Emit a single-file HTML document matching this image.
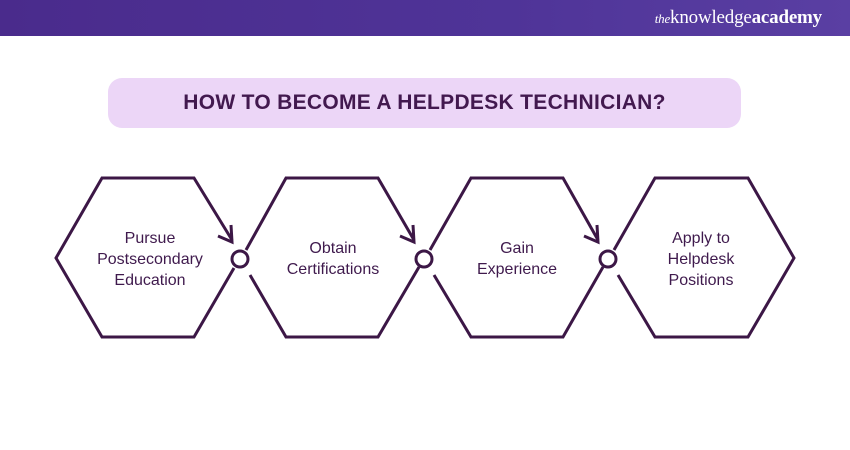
<!DOCTYPE html>
<html><head><style>
body{margin:0;width:850px;height:450px;background:#fff;overflow:hidden;font-family:"Liberation Sans",sans-serif;position:relative}
.hdr{position:absolute;left:0;top:0;width:850px;height:36px;background:linear-gradient(90deg,#4a2b8c,#4f3498 60%,#5a3fa3)}
.logo{position:absolute;right:28px;top:7px;color:#fff;font-family:"Liberation Serif",serif;font-size:19px;letter-spacing:-0.2px}
.logo i{font-size:13px}
.pill{position:absolute;left:108px;top:78px;width:633px;height:50px;border-radius:14px;background:#ecd6f7;color:#42194f;font-weight:bold;font-size:21px;text-align:center;line-height:50px;letter-spacing:0.3px}
</style></head><body>
<div class="hdr"><div class="logo"><i>the</i>knowledge<b>academy</b></div></div>
<div class="pill">HOW TO BECOME A HELPDESK TECHNICIAN?</div>
<svg width="850" height="450" style="position:absolute;left:0;top:0" fill="none" stroke="#3c1746" stroke-width="3" stroke-linejoin="miter">
<polyline points="232,240 194,178 102,178 56,258 102,337 194,337 234,268"/>
<!-- hex 2 -->
<polyline points="246,250 286,178 378,178 414,240"/>
<polyline points="250,275 286,337 378,337 419,267"/>
<!-- hex 3 -->
<polyline points="430,250 471,178 563,178 598,240"/>
<polyline points="434,275 471,337 563,337 603,267"/>
<!-- hex 4 -->
<polyline points="614,250 655,178 748,178 794,258 748,337 655,337 618,275"/>
<!-- arrowheads -->
<polyline points="218,236 232,242 231,225"/>
<polyline points="400,236 414,242 413,225"/>
<polyline points="584,236 598,242 597,225"/>
<circle cx="240" cy="259" r="8" fill="#fff"/>
<circle cx="424" cy="259" r="8" fill="#fff"/>
<circle cx="608" cy="259" r="8" fill="#fff"/>
<g fill="#3f1a4d" stroke="none" font-family="Liberation Sans,sans-serif" font-size="16" text-anchor="middle">
<text x="150" y="243">Pursue</text><text x="150" y="264">Postsecondary</text><text x="150" y="285">Education</text>
<text x="333" y="253">Obtain</text><text x="333" y="274">Certifications</text>
<text x="517" y="253">Gain</text><text x="517" y="274">Experience</text>
<text x="701" y="243">Apply to</text><text x="701" y="264">Helpdesk</text><text x="701" y="285">Positions</text>
</g>
</svg>
</body></html>
